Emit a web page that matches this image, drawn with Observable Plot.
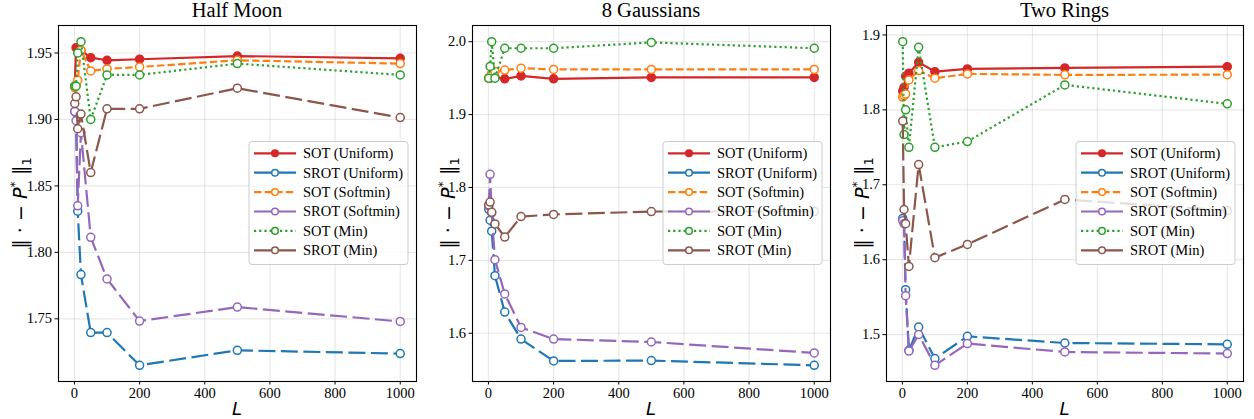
<!DOCTYPE html>
<html>
<head>
<meta charset="utf-8">
<script src="https://cdn.jsdelivr.net/npm/d3@7"></script>
<script src="https://cdn.jsdelivr.net/npm/@observablehq/plot@0.6"></script>
<style>
  html, body { margin: 0; padding: 0; background: #fff; }
  #fig { position: relative; width: 1254px; height: 419px; overflow: hidden; background: #fff; }
  #fig svg { position: absolute; top: 0; }
</style>
</head>
<body>
<div id="fig"></div>
<script>
// Number of projections L and the six methods compared
const L = [1, 5, 10, 20, 50, 100, 200, 500, 1000];
const seriesNames = ["SOT (Uniform)", "SROT (Uniform)", "SOT (Softmin)", "SROT (Softmin)", "SOT (Min)", "SROT (Min)"];

// Half Moon
const halfMoonSOTUniform   = [1.925, 1.954, 1.953, 1.952, 1.9465, 1.9445, 1.9453, 1.9477, 1.946];
const halfMoonSROTUniform  = [1.906, 1.905, 1.831, 1.7833, 1.7396, 1.7396, 1.715, 1.7263, 1.7238];
const halfMoonSOTSoftmin   = [1.924, 1.926, 1.9295, 1.952, 1.9365, 1.938, 1.9395, 1.9445, 1.942];
const halfMoonSROTSoftmin  = [1.906, 1.899, 1.835, 1.890, 1.8113, 1.780, 1.7483, 1.7588, 1.748];
const halfMoonSOTMin       = [1.925, 1.925, 1.950, 1.9585, 1.900, 1.9335, 1.9335, 1.942, 1.9335];
const halfMoonSROTMin      = [1.912, 1.917, 1.893, 1.904, 1.860, 1.908, 1.908, 1.9235, 1.9014];

// 8 Gaussians
const gaussSOTUniform      = [1.950, 1.950, 1.952, 1.951, 1.949, 1.953, 1.949, 1.951, 1.951];
const gaussSROTUniform     = [1.770, 1.755, 1.740, 1.679, 1.629, 1.592, 1.562, 1.5625, 1.556];
const gaussSOTSoftmin      = [1.950, 1.952, 1.957, 1.959, 1.961, 1.9636, 1.962, 1.962, 1.962];
const gaussSROTSoftmin     = [1.775, 1.818, 1.765, 1.701, 1.654, 1.608, 1.592, 1.588, 1.573];
const gaussSOTMin          = [1.950, 1.966, 2.000, 1.950, 1.991, 1.991, 1.991, 1.999, 1.991];
const gaussSROTMin         = [1.776, 1.780, 1.766, 1.750, 1.732, 1.760, 1.763, 1.767, 1.767];

// Two Rings
const ringsSOTUniform      = [1.825, 1.830, 1.845, 1.849, 1.8635, 1.851, 1.8547, 1.856, 1.8577];
const ringsSROTUniform     = [1.655, 1.650, 1.560, 1.479, 1.510, 1.468, 1.4977, 1.4888, 1.487];
const ringsSOTSoftmin      = [1.817, 1.819, 1.821, 1.840, 1.8524, 1.8422, 1.848, 1.8467, 1.847];
const ringsSROTSoftmin     = [1.652, 1.648, 1.552, 1.478, 1.500, 1.459, 1.488, 1.4768, 1.4747];
const ringsSOTMin          = [1.891, 1.767, 1.800, 1.750, 1.8835, 1.750, 1.7577, 1.8333, 1.808];
const ringsSROTMin         = [1.785, 1.667, 1.648, 1.591, 1.727, 1.6027, 1.6204, 1.6804, 1.6657];

// Tick values
const xTicks = [0, 200, 400, 600, 800, 1000];
const halfMoonYTicks = [1.75, 1.80, 1.85, 1.90, 1.95];
const gaussYTicks = [1.6, 1.7, 1.8, 1.9, 2.0];
const ringsYTicks = [1.5, 1.6, 1.7, 1.8, 1.9];

// Panel setup
const panels = [
  { title: "Half Moon", yTicks: halfMoonYTicks, yFormat: ".2f",
    values: [halfMoonSOTUniform, halfMoonSROTUniform, halfMoonSOTSoftmin, halfMoonSROTSoftmin, halfMoonSOTMin, halfMoonSROTMin],
    left: 0, width: 430, marginLeft: 58, marginRight: 14, ylabelX: 20 },
  { title: "8 Gaussians", yTicks: gaussYTicks, yFormat: ".1f",
    values: [gaussSOTUniform, gaussSROTUniform, gaussSOTSoftmin, gaussSROTSoftmin, gaussSOTMin, gaussSROTMin],
    left: 430, width: 420, marginLeft: 42, marginRight: 20, ylabelX: 18 },
  { title: "Two Rings", yTicks: ringsYTicks, yFormat: ".1f",
    values: [ringsSOTUniform, ringsSROTUniform, ringsSOTSoftmin, ringsSROTSoftmin, ringsSOTMin, ringsSROTMin],
    left: 850, width: 404, marginLeft: 36, marginRight: 11, ylabelX: 12 }
];

// Line and marker styles per method
const styles = [
  { color: "#d62728", dash: null,      filled: true,  legendDash: null },
  { color: "#1f77b4", dash: "17,5.5",  filled: false, legendDash: null },
  { color: "#ff7f0e", dash: "7.4,3.2", filled: false, legendDash: "7.4,3.2" },
  { color: "#9467bd", dash: "17,5.5",  filled: false, legendDash: null },
  { color: "#2ca02c", dash: "2.2,3",   filled: false, legendDash: "2.2,3" },
  { color: "#8c564b", dash: "17,5.5",  filled: false, legendDash: null }
];

const HEIGHT = 419, MT = 25, MB = 38;
const serif = "'Liberation Serif', 'Times New Roman', serif";
const sans = "'DejaVu Sans', sans-serif";

// Axis limits padded by 5% of the data span
function padded(arr) {
  const [a, b] = d3.extent(arr);
  const m = (b - a) * 0.05;
  return [a - m, b + m];
}

const fig = d3.select("#fig");

panels.forEach(p => {
  const rows = seriesNames.map((name, i) =>
    L.map((l, j) => ({ series: name, L: l, value: p.values[i][j] })));

  const marks = [
    Plot.gridX(xTicks, { stroke: "#000", strokeOpacity: 0.09, strokeWidth: 1.2 }),
    Plot.gridY(p.yTicks, { stroke: "#000", strokeOpacity: 0.09, strokeWidth: 1.2 })
  ];
  rows.forEach((data, i) => {
    const s = styles[i];
    marks.push(Plot.line(data, {
      x: "L", y: "value", stroke: s.color, strokeWidth: 2.2,
      strokeDasharray: s.dash, strokeLinejoin: "round", strokeLinecap: "butt"
    }));
    marks.push(Plot.dot(data, {
      x: "L", y: "value", r: 4, stroke: s.color, strokeWidth: 1.5,
      fill: s.filled ? s.color : "white"
    }));
  });
  marks.push(
    Plot.axisX({ ticks: xTicks, tickFormat: d3.format("d"), tickSize: 3.5, tickPadding: 2.5, label: null }),
    Plot.axisY({ ticks: p.yTicks, tickFormat: d3.format(p.yFormat), tickSize: 3.5, tickPadding: 3, label: null }),
    Plot.frame({ stroke: "#000", strokeWidth: 1.1 })
  );

  const svg = Plot.plot({
    width: p.width, height: HEIGHT,
    marginTop: MT, marginBottom: MB, marginLeft: p.marginLeft, marginRight: p.marginRight,
    x: { domain: padded(L), nice: false },
    y: { domain: padded(p.values.flat()), nice: false },
    style: `font-family: ${serif}; font-size: 14.5px; color: #000; background: transparent; overflow: visible;`,
    marks
  });
  svg.style.left = p.left + "px";
  svg.setAttribute("font-family", serif);
  svg.setAttribute("font-size", "14.5");
  fig.node().appendChild(svg);

  const root = d3.select(svg);
  root.selectAll("g[aria-label$='tick label']")
    .attr("font-family", serif).attr("font-size", 14.5).style("font-family", serif).style("font-size", "14.5px");

  const g = root.append("g").attr("text-anchor", "start");
  const fx0 = p.marginLeft, fx1 = p.width - p.marginRight;
  const cx = (fx0 + fx1) / 2, cy = (MT + HEIGHT - MB) / 2;

  // Title
  g.append("text").attr("x", cx).attr("y", 17).attr("text-anchor", "middle")
    .style("font-family", serif).style("font-size", "20.5px").text(p.title);

  // x label
  g.append("text").attr("x", cx).attr("y", 415).attr("text-anchor", "middle")
    .style("font-family", sans).style("font-style", "italic")
    .style("font-size", "18px").text("L");

  // y label: ‖ · − P* ‖₁
  const yl = g.append("text")
    .attr("transform", `translate(${p.ylabelX + 7},${cy}) rotate(-90)`)
    .attr("text-anchor", "middle")
    .style("font-family", sans).style("font-size", "19px");
  yl.append("tspan").text("‖ · − ");
  yl.append("tspan").style("font-style", "italic").text("P");
  yl.append("tspan").attr("dy", -8).style("font-size", "13px").text("*");
  yl.append("tspan").attr("dy", 8).text(" ‖");
  yl.append("tspan").attr("dy", 4).style("font-size", "13px").text("1");

  // Legend, centred on the right edge of the axes
  const lw = 159, lh = 123, rowH = 19.4;
  const lx = fx1 - 8 - lw, ly = cy - lh / 2;
  const lg = g.append("g");
  lg.append("rect").attr("x", lx).attr("y", ly).attr("width", lw).attr("height", lh)
    .attr("rx", 3).attr("fill", "white").attr("fill-opacity", 0.8)
    .attr("stroke", "#cccccc").attr("stroke-width", 1);
  seriesNames.forEach((name, i) => {
    const s = styles[i];
    const yy = ly + 11.8 + i * rowH;
    lg.append("line").attr("x1", lx + 5).attr("x2", lx + 47).attr("y1", yy).attr("y2", yy)
      .attr("stroke", s.color).attr("stroke-width", 2.2)
      .attr("stroke-dasharray", s.legendDash);
    lg.append("circle").attr("cx", lx + 26).attr("cy", yy).attr("r", 3.3)
      .attr("stroke", s.color).attr("stroke-width", 1.5)
      .attr("fill", s.filled ? s.color : "white");
    lg.append("text").attr("x", lx + 54).attr("y", yy).attr("dy", "0.34em")
      .attr("text-anchor", "start")
      .style("font-family", serif).style("font-size", "14.5px").text(name);
  });
});
</script>
</body>
</html>
